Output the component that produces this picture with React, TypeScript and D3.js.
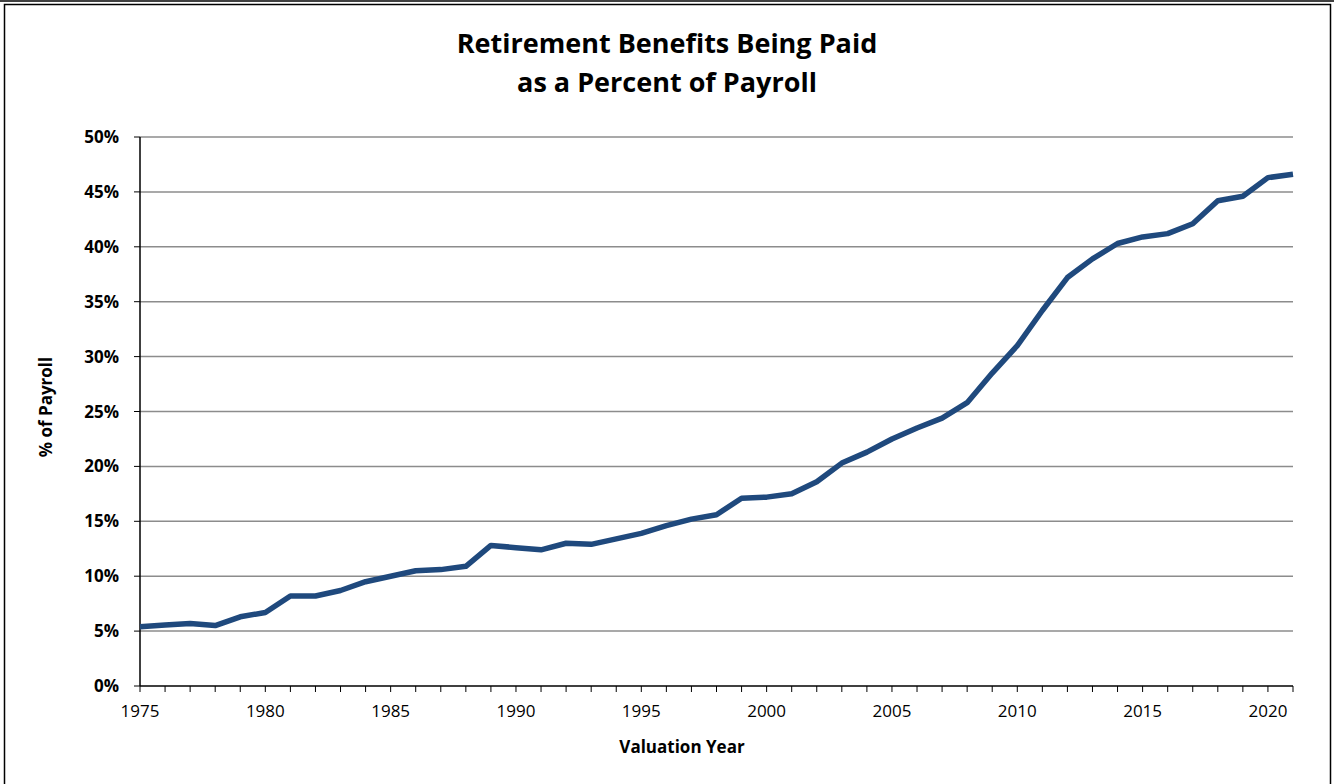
import React from "react";
import * as d3 from "d3";

const years: number[] = [
  1975, 1976, 1977, 1978, 1979, 1980, 1981, 1982, 1983, 1984, 1985, 1986, 1987, 1988, 1989, 1990,
  1991, 1992, 1993, 1994, 1995, 1996, 1997, 1998, 1999, 2000, 2001, 2002, 2003, 2004, 2005, 2006,
  2007, 2008, 2009, 2010, 2011, 2012, 2013, 2014, 2015, 2016, 2017, 2018, 2019, 2020, 2021,
];
const pctPayroll: number[] = [
  5.4, 5.55, 5.7, 5.5, 6.3, 6.7, 8.2, 8.2, 8.7, 9.5, 10.0, 10.5, 10.6, 10.9, 12.8, 12.6,
  12.4, 13.0, 12.9, 13.4, 13.9, 14.6, 15.2, 15.6, 17.1, 17.2, 17.5, 18.6, 20.3, 21.3, 22.5, 23.5,
  24.4, 25.8, 28.5, 31.0, 34.2, 37.2, 38.9, 40.3, 40.9, 41.2, 42.1, 44.2, 44.6, 46.3, 46.6,
];
const yTicks: number[] = [0, 5, 10, 15, 20, 25, 30, 35, 40, 45, 50];
const xLabelYears: number[] = [1975, 1980, 1985, 1990, 1995, 2000, 2005, 2010, 2015, 2020];
const titleLines: string[] = ["Retirement Benefits Being Paid", "as a Percent of Payroll"];

export default function App() {
  const W = 1334;
  const H = 784;
  const left = 140;
  const right = 1293;
  const top = 137;
  const bottom = 686;
  const x = d3.scaleLinear().domain([1975, 2021]).range([left, right]);
  const y = d3.scaleLinear().domain([0, 50]).range([bottom, top]);
  const line = d3
    .line<number>()
    .x((_, i) => x(years[i]))
    .y((d) => y(d));
  const font = "Open Sans, Noto Sans, Liberation Sans, sans-serif";
  return (
    <div style={{ position: "absolute", left: 0, top: 0 }}>
      <svg width={W} height={H} style={{ display: "block", background: "#fff" }}>
        <line x1={0} x2={W} y1={1} y2={1} stroke="#000" strokeWidth={1.5} />
        <rect x={4.5} y={4.5} width={1326} height={H + 10} fill="none" stroke="#000" strokeWidth={1.5} />
        {titleLines.map((t, i) => (
          <text
            key={t}
            x={667}
            y={53 + i * 39}
            textAnchor="middle"
            fontFamily={font}
            fontWeight="bold"
            fontSize={27}
            fill="#000"
          >
            {t}
          </text>
        ))}
        {yTicks.map((t) => (
          <g key={t}>
            {t > 0 && (
              <line x1={left} x2={right} y1={y(t)} y2={y(t)} stroke="#8c8c8c" strokeWidth={1.5} />
            )}
            <line x1={left - 6} x2={left} y1={y(t)} y2={y(t)} stroke="#000" strokeWidth={1} />
            <text
              x={119}
              y={y(t) + 6}
              textAnchor="end"
              fontFamily={font}
              fontWeight="bold"
              fontSize={17}
              fill="#000"
            >
              {t}%
            </text>
          </g>
        ))}
        {years.map((yr) => (
          <line key={yr} x1={x(yr)} x2={x(yr)} y1={bottom} y2={bottom + 6} stroke="#000" strokeWidth={1} />
        ))}
        {xLabelYears.map((yr) => (
          <text
            key={yr}
            x={x(yr)}
            y={717}
            textAnchor="middle"
            fontFamily={font}
            fontSize={17}
            fill="#000"
          >
            {yr}
          </text>
        ))}
        <line x1={left} x2={left} y1={top} y2={bottom} stroke="#000" strokeWidth={1.5} />
        <line x1={left} x2={right} y1={bottom} y2={bottom} stroke="#000" strokeWidth={1.5} />
        <path d={line(pctPayroll) || ""} fill="none" stroke="#1f497d" strokeWidth={5.5} strokeLinejoin="round" />
        <text
          x={682}
          y={753}
          textAnchor="middle"
          fontFamily={font}
          fontWeight="bold"
          fontSize={17}
          fill="#000"
        >
          Valuation Year
        </text>
        <text
          transform={`translate(52, 407) rotate(-90)`}
          textAnchor="middle"
          fontFamily={font}
          fontWeight="bold"
          fontSize={17}
          fill="#000"
        >
          % of Payroll
        </text>
      </svg>
    </div>
  );
}
